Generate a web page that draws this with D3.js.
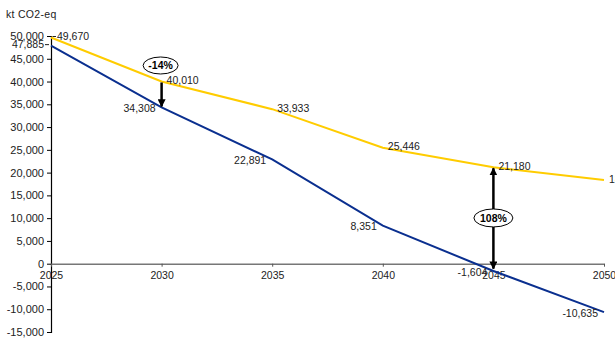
<!DOCTYPE html>
<html><head><meta charset="utf-8">
<script src="https://cdn.jsdelivr.net/npm/d3@7"></script>
<style>
body{margin:0;background:#fff;}
svg{font-family:"Liberation Sans",Arial,sans-serif;}
</style></head>
<body><svg id="c" width="615" height="338"></svg>
<script>
const years = [2025, 2030, 2035, 2040, 2045, 2050];
const refValues = [49670, 40010, 33933, 25446, 21180, 18400];
const targetValues = [47885, 34308, 22891, 8351, -1604, -10635];
const yTicks = [-15000, -10000, -5000, 0, 5000, 10000, 15000, 20000, 25000, 30000, 35000, 40000, 45000, 50000];
const unitLabel = "kt CO2-eq";
const gapLabels = [{year: 2030, text: "-14%", from: "ref", to: "target"}, {year: 2045, text: "108%", from: "ref", to: "zero"}];

const svg = d3.select("#c");
const x = d3.scaleLinear().domain([2025, 2050]).range([51, 604]);
const y = d3.scaleLinear().domain([-15000, 50000]).range([332, 36]);
const fmt0 = d3.format(",");
const fmt = v => fmt0(v).replace("\u2212", "-");
const yellow = "#FFCC00", blue = "#0A2F8F";

svg.append("text").attr("x", 6).attr("y", 18).attr("font-size", 10.5).attr("letter-spacing", 0.3).attr("fill", "#222").text(unitLabel);

// y axis
const ya = svg.append("g").attr("transform", `translate(${x(2025)},0)`)
  .call(d3.axisLeft(y).tickValues(yTicks).tickFormat(fmt).tickSize(4).tickPadding(3));
ya.select(".domain").attr("stroke", "#000").attr("stroke-width", 1.2);
ya.selectAll("text").attr("font-size", 11).attr("fill", "#222").attr("font-family", "Liberation Sans, Arial, sans-serif");

// x axis
const xa = svg.append("g").attr("transform", `translate(0,${y(0)})`)
  .call(d3.axisBottom(x).tickValues(years).tickFormat(d3.format("d")).tickSize(3).tickPadding(5).tickSizeOuter(0));
xa.select(".domain").attr("stroke", "#777").attr("stroke-width", 1.5);
xa.selectAll(".tick line").attr("stroke", "#555");
xa.selectAll("text").attr("font-size", 10.5).attr("fill", "#222").attr("font-family", "Liberation Sans, Arial, sans-serif");

const line = d3.line().x((d, i) => x(years[i])).y(d => y(d));
svg.append("path").datum(refValues).attr("d", line).attr("fill", "none").attr("stroke", yellow).attr("stroke-width", 2);
svg.append("path").datum(targetValues).attr("d", line).attr("fill", "none").attr("stroke", blue).attr("stroke-width", 2);

// labels
const lab = svg.append("g").attr("font-size", 10.5).attr("fill", "#222");
refValues.forEach((v, i) => {
  const px = x(years[i]) + (i === 0 ? 6 : 5), py = y(v) - 1;
  lab.append("text").attr("x", px).attr("y", py).attr("dy", "0.35em").text(fmt(v));
});
svg.append("line").attr("x1", x(2025) + 1.5).attr("x2", x(2025) + 5).attr("y1", y(refValues[0]) - 1).attr("y2", y(refValues[0]) - 1).attr("stroke", "#222").attr("stroke-width", 1);
targetValues.forEach((v, i) => {
  const px = x(years[i]) - (i === 0 ? 7 : 6), py = i === 0 ? y(v) - 1 : y(v) + 1;
  lab.append("text").attr("x", px).attr("y", py).attr("dy", "0.35em").attr("text-anchor", "end").text(fmt(v));
});
svg.append("line").attr("x1", x(2025) - 6).attr("x2", x(2025) - 2).attr("y1", y(targetValues[0]) - 1).attr("y2", y(targetValues[0]) - 1).attr("stroke", "#222").attr("stroke-width", 1);

// arrows
const defs = svg.append("defs");
defs.append("marker").attr("id", "ah").attr("viewBox", "0 0 10 10").attr("refX", 9).attr("refY", 5)
  .attr("markerWidth", 3.2).attr("markerHeight", 3.2).attr("markerUnits", "strokeWidth").attr("orient", "auto-start-reverse")
  .append("path").attr("d", "M0,0 L10,5 L0,10 Z").attr("fill", "#000");

gapLabels.forEach(g => {
  const i = years.indexOf(g.year);
  const cx = x(g.year);
  const y1 = y(refValues[i]);
  if (g.to === "target") {
    const y2 = y(targetValues[i]);
    svg.append("line").attr("x1", cx).attr("x2", cx).attr("y1", y1 + 1).attr("y2", y2 - 1)
      .attr("stroke", "#000").attr("stroke-width", 2.5).attr("marker-end", "url(#ah)");
    const ey = y1 - 16;
    svg.append("ellipse").attr("cx", cx - 1).attr("cy", ey).attr("rx", 17.5).attr("ry", 8.5).attr("fill", "#fff").attr("stroke", "#000").attr("stroke-width", 1);
    svg.append("text").attr("x", cx - 1).attr("y", ey).attr("dy", "0.35em").attr("text-anchor", "middle").attr("font-size", 10.5).attr("font-weight", "bold").text(g.text);
  } else {
    const y2 = y(0) + 5;
    svg.append("line").attr("x1", cx).attr("x2", cx).attr("y1", y1 + 1).attr("y2", y2)
      .attr("stroke", "#000").attr("stroke-width", 2.5).attr("marker-end", "url(#ah)").attr("marker-start", "url(#ah)");
    const ey = (y1 + y2) / 2;
    svg.append("ellipse").attr("cx", cx).attr("cy", ey).attr("rx", 19.5).attr("ry", 9).attr("fill", "#fff").attr("stroke", "#000").attr("stroke-width", 1);
    svg.append("text").attr("x", cx).attr("y", ey).attr("dy", "0.35em").attr("text-anchor", "middle").attr("font-size", 10.5).attr("font-weight", "bold").text(g.text);
  }
});
</script></body></html>
